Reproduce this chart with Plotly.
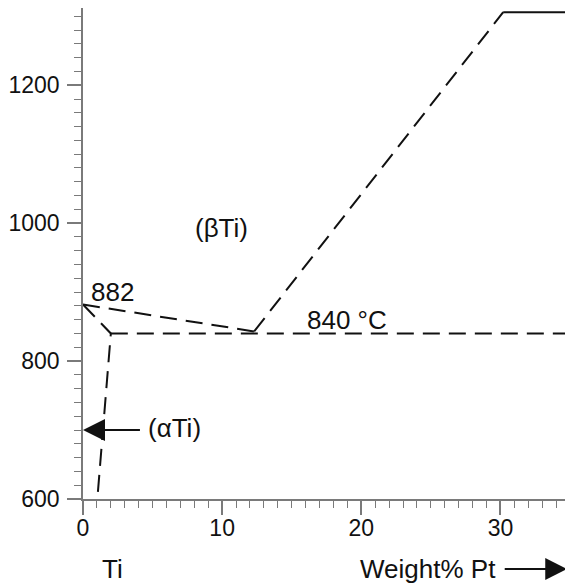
import plotly.graph_objects as go

# Phase boundary data (Weight% Pt, Temperature °C)
top_x = [30.2, 35.0]
top_y = [1306, 1306]
liq_x = [12.3, 30.2]
liq_y = [843, 1306]
beta_transus_x = [0.0, 12.3]
beta_transus_y = [882, 843]
alpha_x = [0.0, 2.0, 1.05]
alpha_y = [882, 840, 605]
eutectoid_x = [2.0, 35.0]
eutectoid_y = [840, 840]

x_tick_vals = [0, 10, 20, 30]
y_tick_vals = [600, 800, 1000, 1200]

FONT = "Liberation Sans, Arial, sans-serif"
INK = "#111111"
AX = "#7a7a7a"
DASH = "17px,9px"

fig = go.Figure()
fig.add_trace(go.Scatter(x=top_x, y=top_y, mode="lines",
                         line=dict(color=INK, width=2), hoverinfo="skip"))
for xs, ys in [(liq_x, liq_y), (beta_transus_x, beta_transus_y),
               (alpha_x, alpha_y), (eutectoid_x, eutectoid_y)]:
    fig.add_trace(go.Scatter(x=xs, y=ys, mode="lines",
                             line=dict(color=INK, width=2, dash=DASH),
                             hoverinfo="skip"))

ann_font = dict(family=FONT, size=26, color=INK)
fig.add_annotation(x=0.43, y=900, text="882", showarrow=False,
                   xanchor="left", yanchor="middle", font=ann_font)
fig.add_annotation(x=9.95, y=993, text="(βTi)", showarrow=False,
                   xanchor="center", yanchor="middle", font=ann_font)
fig.add_annotation(x=19.0, y=860, text="840 °C", showarrow=False,
                   xanchor="center", yanchor="middle", font=ann_font)
fig.add_annotation(x=4.5, y=703, text="(αTi)", showarrow=False,
                   xanchor="left", yanchor="middle", font=ann_font)
fig.add_annotation(x=0, y=700, ax=4.2, ay=700, axref="x", ayref="y",
                   xref="x", yref="y", text="", showarrow=True,
                   arrowhead=2, arrowsize=2.2, arrowwidth=2, arrowcolor=INK)
fig.add_annotation(x=2.15, y=0, xref="x", yref="paper", yshift=-70,
                   text="Ti", showarrow=False, xanchor="center",
                   yanchor="middle", font=ann_font)
fig.add_annotation(x=29.8, y=0, xref="x", yref="paper", yshift=-70,
                   text="Weight% Pt", showarrow=False, xanchor="right",
                   yanchor="middle", font=ann_font)
fig.add_annotation(x=34.8, y=-70 / 491, xref="x", yref="paper",
                   ax=-64, ay=0, text="", showarrow=True,
                   arrowhead=2, arrowsize=2.2, arrowwidth=2, arrowcolor=INK)

fig.update_layout(
    width=565, height=576,
    margin=dict(l=75, r=3, t=0, b=85),
    paper_bgcolor="white", plot_bgcolor="white",
    showlegend=False,
    font=dict(family=FONT, color=INK),
)
fig.update_xaxes(
    range=[0, 35], tickvals=x_tick_vals, ticktext=[str(v) for v in x_tick_vals],
    showgrid=False, zeroline=False, showline=True, linecolor=AX, linewidth=1.5,
    ticks="outside", ticklen=14, tickcolor=AX, tickwidth=1.5,
    tickfont=dict(family=FONT, size=23, color=INK), ticklabelstandoff=-6,
    minor=dict(dtick=1, tick0=0, ticks="outside", ticklen=7, tickcolor=AX, tickwidth=1.2),
)
fig.update_yaxes(
    range=[600, 1312], tickvals=y_tick_vals, ticktext=[str(v) for v in y_tick_vals],
    showgrid=False, zeroline=False, showline=True, linecolor=AX, linewidth=1.5,
    ticks="outside", ticklen=14, tickcolor=AX, tickwidth=1.5,
    tickfont=dict(family=FONT, size=23, color=INK), ticklabelstandoff=3,
    minor=dict(dtick=20, tick0=600, ticks="outside", ticklen=7, tickcolor=AX, tickwidth=1.2),
)

fig.write_html("out.html")
